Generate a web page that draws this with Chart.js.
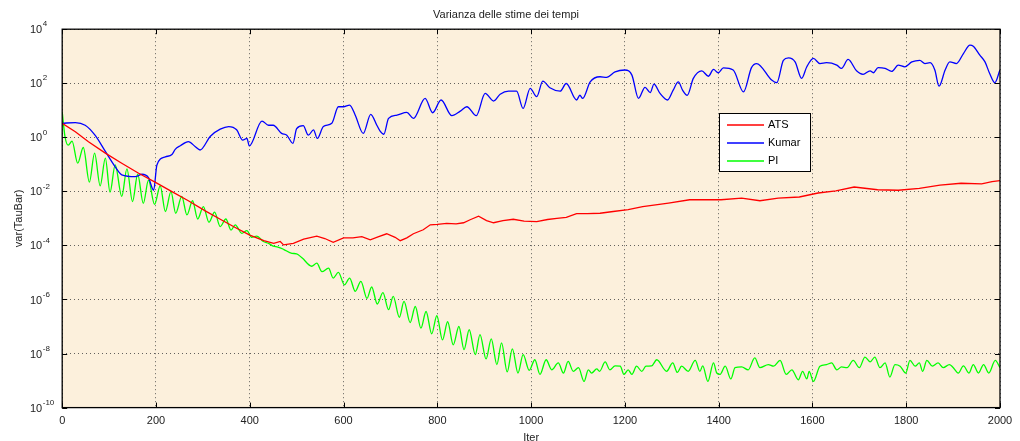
<!DOCTYPE html>
<html>
<head>
<meta charset="utf-8">
<title>Varianza delle stime dei tempi</title>
<script src="https://cdn.jsdelivr.net/npm/chart.js@4.4.0/dist/chart.umd.min.js"></script>
<style>
  html, body { margin: 0; padding: 0; background: #ffffff; }
  #wrap { width: 1020px; height: 441px; }
</style>
</head>
<body>
<div id="wrap"><canvas id="varChart" width="1020" height="441"></canvas></div>
<script>
// tick positions
const xTickValues = [0, 200, 400, 600, 800, 1000, 1200, 1400, 1600, 1800, 2000];
const yTickValues = [1e-10, 1e-8, 1e-6, 1e-4, 1e-2, 1e0, 1e2, 1e4];

// ATS (red)
const iterAts = [0, 28, 56, 92, 127, 163, 198, 234, 269, 305, 340, 369, 400, 430, 451, 465, 472, 493, 515, 543,
  560, 578, 600, 620, 639, 657, 675, 692, 710, 721, 735, 749, 770, 785, 800, 820, 840, 856, 870, 888,
  905, 920, 940, 962, 985, 1012, 1035, 1055, 1075, 1097, 1120, 1147, 1175, 1207, 1238, 1293, 1338, 1405, 1449, 1488,
  1527, 1572, 1612, 1650, 1689, 1739, 1783, 1828, 1872, 1917, 1961, 1983, 2000];
const varAts = [3.3, 1.6, 0.69, 0.26, 0.11, 4.7e-2, 2.2e-2, 9.8e-3, 4.5e-3, 1.9e-3, 8.7e-4, 4.6e-4, 2.4e-4, 1.5e-4, 1.2e-4, 1.4e-4, 1.05e-4, 1.2e-4, 1.7e-4, 2.2e-4,
  1.8e-4, 1.3e-4, 1.9e-4, 1.9e-4, 2.1e-4, 1.6e-4, 2.1e-4, 2.7e-4, 2.0e-4, 1.5e-4, 1.9e-4, 2.7e-4, 3.8e-4, 5.8e-4, 6.0e-4, 6.6e-4, 6.3e-4, 6.9e-4, 8.9e-4, 1.2e-3,
  8.3e-4, 6.9e-4, 8.3e-4, 9.3e-4, 7.9e-4, 7.6e-4, 9.1e-4, 1.0e-3, 1.1e-3, 1.5e-3, 1.5e-3, 1.55e-3, 1.8e-3, 2.1e-3, 2.75e-3, 3.7e-3, 4.9e-3, 4.9e-3, 5.6e-3, 4.5e-3,
  5.6e-3, 6.2e-3, 8.7e-3, 1.05e-2, 1.45e-2, 1.15e-2, 1.1e-2, 1.3e-2, 1.7e-2, 2.0e-2, 1.9e-2, 2.3e-2, 2.5e-2];

// Kumar (blue)
const iterKumar = [0, 28, 49, 70, 92, 113, 127, 156, 170, 184, 195, 202, 220, 234, 241, 252, 269, 284, 294, 316,
  337, 355, 372, 385, 394, 399, 426, 440, 450, 468, 479, 492, 500, 514, 525, 536, 544, 557, 575, 589,
  600, 613, 625, 642, 658, 671, 678, 686, 696, 714, 735, 749, 774, 790, 808, 831, 849, 863, 883, 902,
  920, 934, 952, 969, 983, 998, 1012, 1025, 1040, 1062, 1075, 1097, 1104, 1110, 1126, 1147, 1161, 1179, 1200, 1215,
  1229, 1243, 1254, 1262, 1275, 1291, 1303, 1314, 1323, 1333, 1346, 1364, 1378, 1389, 1399, 1410, 1431, 1453, 1470, 1481,
  1513, 1524, 1538, 1549, 1563, 1577, 1588, 1602, 1616, 1630, 1652, 1662, 1676, 1694, 1708, 1723, 1730, 1740, 1755, 1769,
  1783, 1797, 1812, 1829, 1840, 1851, 1861, 1870, 1883, 1893, 1907, 1922, 1936, 1943, 1957, 1968, 1978, 1989, 2000];
const varKumar = [3.3, 3.5, 2.8, 1.2, 0.30, 8.1e-2, 4.1e-2, 3.5e-2, 4.3e-2, 3.2e-2, 1.1e-2, 9.5e-2, 0.19, 0.23, 0.36, 0.49, 0.69, 0.45, 0.34, 1.1,
  2.0, 2.5, 1.9, 0.79, 0.91, 0.48, 4.0, 2.8, 2.8, 1.4, 1.2, 0.60, 2.1, 2.7, 1.2, 1.9, 0.91, 2.5, 3.3, 13.5,
  13.5, 15.5, 6.6, 1.4, 7.1, 2.8, 1.7, 1.3, 5.0, 6.6, 8.3, 5.0, 27.5, 8.1, 24, 6.3, 9.3, 13.5, 6.3, 42,
  22, 39, 51, 51, 11.7, 65, 32, 120, 68, 51, 98, 24, 36, 27.5, 112, 174, 166, 263, 309, 200,
  27.5, 71, 45, 93, 42, 24, 56, 112, 56, 36, 151, 288, 182, 324, 245, 372, 309, 48, 380, 537,
  132, 105, 708, 871, 617, 151, 407, 832, 537, 575, 468, 355, 759, 288, 214, 288, 245, 380, 355, 275,
  468, 407, 617, 708, 537, 575, 309, 78, 309, 617, 537, 1260, 2570, 2340, 1100, 617, 229, 105, 316];

// PI (green)
const iterPi = [0, 6, 13, 21, 33, 45, 58, 69, 81, 92, 102, 113, 127, 138, 150, 161, 173, 184, 197, 209,
  220, 232, 242, 255, 266, 278, 289, 301, 313, 325, 337, 349, 360, 369, 383, 394, 404, 415, 429, 440,
  450, 460, 472, 490, 500, 512, 532, 543, 554, 568, 578, 589, 602, 613, 625, 637, 650, 660, 672, 684,
  696, 706, 719, 729, 742, 753, 765, 776, 788, 799, 811, 822, 834, 846, 857, 868, 881, 891, 904, 915,
  927, 937, 949, 960, 972, 983, 996, 1008, 1019, 1032, 1044, 1058, 1069, 1079, 1090, 1101, 1113, 1122, 1129, 1140,
  1146, 1158, 1168, 1179, 1190, 1198, 1207, 1215, 1225, 1236, 1245, 1257, 1268, 1289, 1302, 1312, 1321, 1335, 1350, 1360,
  1366, 1377, 1389, 1396, 1403, 1414, 1426, 1435, 1449, 1463, 1477, 1488, 1506, 1517, 1531, 1544, 1556, 1570, 1579, 1588,
  1593, 1602, 1616, 1630, 1641, 1652, 1662, 1674, 1687, 1700, 1712, 1723, 1733, 1744, 1755, 1765, 1776, 1787, 1799, 1808,
  1819, 1828, 1835, 1844, 1856, 1868, 1879, 1892, 1899, 1911, 1922, 1934, 1943, 1954, 1965, 1976, 1990, 2000];
const varPi = [8.7, 1.05, 0.51, 0.72, 0.11, 0.42, 2.2e-2, 0.26, 1.6e-2, 0.17, 9.3e-3, 9.5e-2, 6.5e-3, 6.8e-2, 4.2e-3, 4.3e-2, 3.6e-3, 2.6e-2, 3.3e-3, 1.6e-2,
  1.8e-3, 9.8e-3, 1.55e-3, 6.5e-3, 1.35e-3, 4.5e-3, 9.5e-4, 2.75e-3, 7.2e-4, 1.7e-3, 5.0e-4, 9.5e-4, 3.7e-4, 5.8e-4, 2.8e-4, 3.5e-4, 2.0e-4, 2.2e-4, 1.4e-4, 1.2e-4,
  9.5e-5, 8.7e-5, 7.2e-5, 5.1e-5, 4.9e-5, 3.4e-5, 1.7e-5, 2.2e-5, 1.07e-5, 1.45e-5, 6.2e-6, 1.0e-5, 3.5e-6, 6.2e-6, 2.0e-6, 4.7e-6, 1.1e-6, 2.9e-6, 6.8e-7, 1.8e-6,
  4.2e-7, 1.3e-6, 2.2e-7, 8.5e-7, 1.4e-7, 5.5e-7, 8.7e-8, 3.6e-7, 5.4e-8, 2.5e-7, 3.2e-8, 1.5e-7, 2.1e-8, 1.0e-7, 1.4e-8, 7.6e-8, 9.1e-9, 5.0e-8, 6.3e-9, 3.5e-8,
  3.9e-9, 2.5e-8, 2.1e-9, 1.5e-8, 1.9e-9, 9.1e-9, 2.4e-9, 5.9e-9, 1.7e-9, 5.9e-9, 2.5e-9, 4.5e-9, 1.9e-9, 5.1e-9, 2.2e-9, 3.0e-9, 9.3e-10, 2.5e-9, 1.9e-9, 2.7e-9,
  2.2e-9, 4.9e-9, 2.5e-9, 3.5e-9, 3.4e-9, 1.7e-9, 2.5e-9, 1.7e-9, 3.4e-9, 2.2e-9, 3.4e-9, 3.5e-9, 5.9e-9, 2.2e-9, 4.5e-9, 2.0e-9, 3.4e-9, 2.2e-9, 5.6e-9, 2.2e-9,
  3.5e-9, 9.3e-10, 4.5e-9, 1.9e-9, 1.7e-9, 3.4e-9, 1.15e-9, 3.0e-9, 3.2e-9, 2.5e-9, 6.9e-9, 3.0e-9, 3.9e-9, 3.4e-9, 5.6e-9, 1.7e-9, 2.5e-9, 1.07e-9, 2.2e-9, 1.15e-9,
  2.2e-9, 9.3e-10, 3.4e-9, 3.9e-9, 4.5e-9, 2.5e-9, 3.2e-9, 3.0e-9, 5.6e-9, 3.0e-9, 7.4e-9, 4.9e-9, 7.4e-9, 3.0e-9, 4.5e-9, 1.35e-9, 3.9e-9, 3.4e-9, 1.9e-9, 5.6e-9,
  3.4e-9, 4.5e-9, 2.2e-9, 5.6e-9, 3.4e-9, 4.5e-9, 3.0e-9, 3.9e-9, 3.2e-9, 1.9e-9, 3.5e-9, 1.9e-9, 3.9e-9, 1.9e-9, 3.9e-9, 1.9e-9, 5.6e-9, 3.0e-9];

const fontFamily = '"Liberation Sans", Arial, Helvetica, sans-serif';
const plotBg = '#fcf0dc';
const gridColor = 'rgba(70, 70, 70, 0.85)';

function toPoints(xs, ys) {
  return xs.map((x, i) => ({ x: x, y: ys[i] }));
}

// MATLAB-like frame: beige axes, black box, inward ticks, 10^n labels and the legend box
const matlabFrame = {
  id: 'matlabFrame',
  beforeDraw(chart) {
    const { ctx, chartArea: a } = chart;
    ctx.save();
    ctx.fillStyle = '#ffffff';
    ctx.fillRect(0, 0, chart.width, chart.height);
    ctx.fillStyle = plotBg;
    ctx.fillRect(a.left, a.top, a.right - a.left, a.bottom - a.top);
    ctx.restore();
  },
  afterDatasetsDraw(chart) {
    const { ctx, chartArea: a, scales } = chart;
    ctx.save();

    // inward tick marks on all four sides
    ctx.strokeStyle = '#000000';
    ctx.lineWidth = 1;
    ctx.beginPath();
    xTickValues.forEach(v => {
      const px = Math.round(scales.x.getPixelForValue(v)) + 0.5;
      ctx.moveTo(px, a.bottom); ctx.lineTo(px, a.bottom - 5);
      ctx.moveTo(px, a.top); ctx.lineTo(px, a.top + 5);
    });
    yTickValues.forEach(v => {
      const py = Math.round(scales.y.getPixelForValue(v)) + 0.5;
      ctx.moveTo(a.left, py); ctx.lineTo(a.left + 5, py);
      ctx.moveTo(a.right, py); ctx.lineTo(a.right - 5, py);
    });
    ctx.stroke();

    ctx.lineWidth = 1.3;
    ctx.strokeRect(a.left, a.top, a.right - a.left, a.bottom - a.top);

    // y tick labels as 10 with a raised exponent
    ctx.fillStyle = '#222222';
    ctx.textAlign = 'left';
    ctx.textBaseline = 'middle';
    yTickValues.forEach(v => {
      const py = scales.y.getPixelForValue(v);
      const exp = Math.round(Math.log10(v));
      ctx.font = '11px ' + fontFamily;
      ctx.fillText('10', 30, py + 1);
      const w = ctx.measureText('10').width;
      ctx.font = '8px ' + fontFamily;
      ctx.fillText(String(exp), 30 + w + 0.5, py - 5);
    });

    // legend box inside the axes
    const lx = 719, ly = 113, lw = 91, lh = 58;
    ctx.fillStyle = '#ffffff';
    ctx.fillRect(lx, ly, lw, lh);
    ctx.strokeStyle = '#000000';
    ctx.lineWidth = 1;
    ctx.strokeRect(lx + 0.5, ly + 0.5, lw, lh);
    ctx.font = '11px ' + fontFamily;
    chart.data.datasets.forEach((ds, i) => {
      const ry = ly + 12 + i * 18;
      ctx.strokeStyle = ds.borderColor;
      ctx.lineWidth = 1.3;
      ctx.beginPath();
      ctx.moveTo(lx + 8, ry); ctx.lineTo(lx + 45, ry);
      ctx.stroke();
      ctx.fillStyle = '#000000';
      ctx.fillText(ds.label, lx + 49, ry);
    });
    ctx.restore();
  }
};

const ctx = document.getElementById('varChart').getContext('2d');
new Chart(ctx, {
  type: 'line',
  data: {
    datasets: [{
      label: 'ATS',
      data: toPoints(iterAts, varAts),
      borderColor: '#ff0000',
      borderWidth: 1.3,
      pointRadius: 0,
      tension: 0
    }, {
      label: 'Kumar',
      data: toPoints(iterKumar, varKumar),
      borderColor: '#0000ff',
      borderWidth: 1.3,
      pointRadius: 0,
      cubicInterpolationMode: 'monotone'
    }, {
      label: 'PI',
      data: toPoints(iterPi, varPi),
      borderColor: '#00ff00',
      borderWidth: 1.3,
      pointRadius: 0,
      cubicInterpolationMode: 'monotone'
    }]
  },
  options: {
    responsive: false,
    animation: false,
    devicePixelRatio: 1,
    layout: { padding: { left: 12, right: 20, top: 0, bottom: -4 } },
    plugins: {
      legend: { display: false },
      tooltip: { enabled: false },
      title: {
        display: true,
        text: 'Varianza delle stime dei tempi',
        color: '#222222',
        font: { family: fontFamily, size: 11, weight: 'normal' },
        padding: { top: 8, bottom: 8 }
      }
    },
    scales: {
      x: {
        type: 'linear',
        min: 0,
        max: 2000,
        afterBuildTicks: scale => { scale.ticks = xTickValues.map(v => ({ value: v })); },
        ticks: {
          color: '#222222',
          font: { family: fontFamily, size: 11 },
          padding: 7,
          maxRotation: 0,
          callback: value => String(value)
        },
        grid: { color: gridColor, lineWidth: 1, drawTicks: false },
        border: { display: false, dash: [1, 3] },
        title: {
          display: true,
          text: 'Iter',
          color: '#222222',
          font: { family: fontFamily, size: 11 },
          padding: { top: -3, bottom: 0 }
        }
      },
      y: {
        type: 'logarithmic',
        min: 1e-10,
        max: 1e4,
        afterBuildTicks: scale => { scale.ticks = yTickValues.map(v => ({ value: v })); },
        ticks: { display: false },
        grid: { color: gridColor, lineWidth: 1, drawTicks: false },
        border: { display: false, dash: [1, 3] },
        title: {
          display: true,
          text: 'var(TauBar)',
          color: '#222222',
          font: { family: fontFamily, size: 11 },
          padding: { top: 0, bottom: 37 }
        }
      }
    }
  },
  plugins: [matlabFrame]
});
</script>
</body>
</html>
